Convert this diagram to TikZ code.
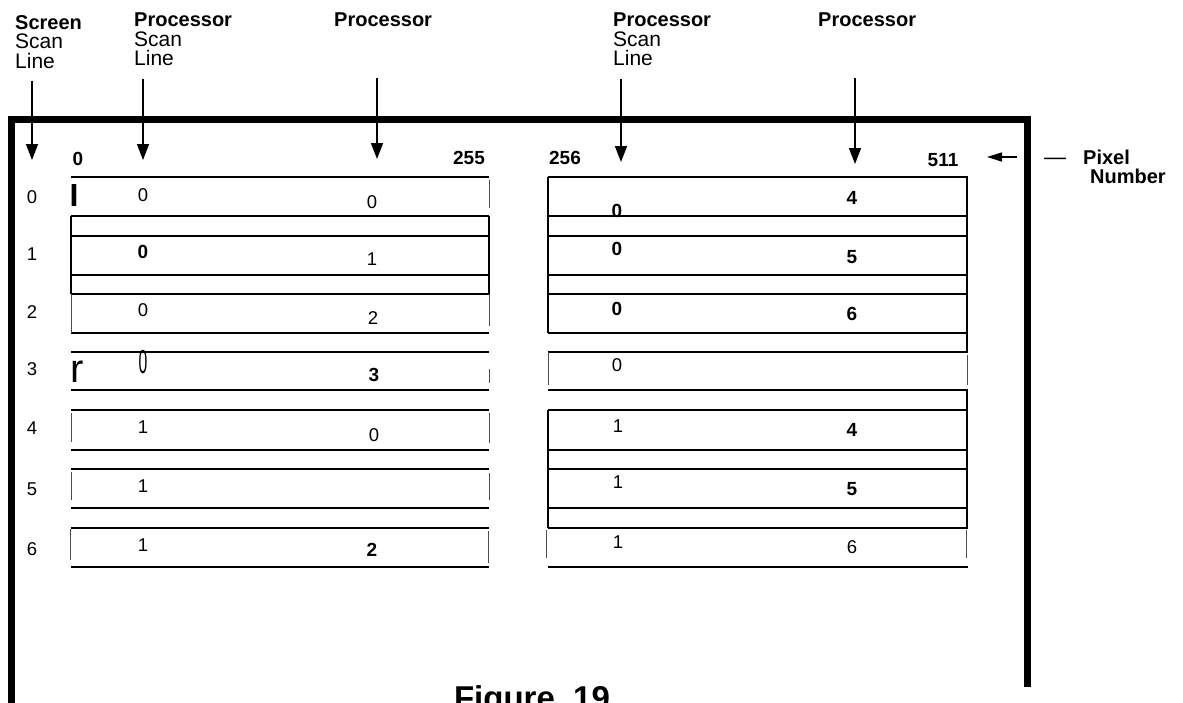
\documentclass[tikz,border=0pt]{standalone}
\usepackage{fontspec}
\setmainfont{Liberation Sans}
\usepackage{graphicx}
\usetikzlibrary{arrows.meta,positioning}

\begin{document}
\begin{tikzpicture}[x=1pt, y=-1pt,
  outerframe/.style={line width=7pt, line join=miter},
  rowline/.style={line width=1.8pt},
  side/.style={line width=1.5pt},
  faint/.style={line width=0.7pt, black!70},
  lbl/.style={inner sep=0pt, anchor=north west, align=left, font=\fontsize{21}{19.5}\selectfont},
  head/.style={inner sep=0pt, anchor=north west, font=\fontsize{20}{19.5}\selectfont\bfseries},
  num/.style={inner sep=0pt, font=\fontsize{18.5}{18.5}\selectfont},
  bnum/.style={inner sep=0pt, font=\fontsize{19}{19}\selectfont\bfseries},
  ptr/.style={line width=1.6pt, -{Triangle[width=12pt,length=16pt]}}]
  \useasboundingbox (0,0) rectangle (1183,702);

  % column headings
  \node[lbl] (scrl) at (15,15) {{\fontsize{20}{19.5}\selectfont\bfseries Screen}\\Scan\\Line};
  \node[lbl] (psl1) at (134,13) {{\fontsize{20}{19.5}\selectfont\bfseries Processor}\\Scan\\Line};
  \node[head] (prc1) at (334,13) {Processor};
  \node[lbl] (psl2) at (613,13) {{\fontsize{20}{19.5}\selectfont\bfseries Processor}\\Scan\\Line};
  \node[head] (prc2) at (818,13) {Processor};

  \coordinate (t0) at (32,160);
  \coordinate (t1) at (143,160);
  \coordinate (t2) at (377,159);
  \coordinate (t3) at (621,162);
  \coordinate (t4) at (855,164);
  \draw[ptr, shorten <=12pt] (scrl.south -| t0) -- (t0);
  \draw[ptr, shorten <=13pt] (psl1.south -| t1) -- (t1);
  \draw[ptr, shorten <=51pt] (prc1.south -| t2) -- (t2);
  \draw[ptr, shorten <=13pt] (psl2.south -| t3) -- (t3);
  \draw[ptr, shorten <=51pt] (prc2.south -| t4) -- (t4);

  % outer frame
  \draw[outerframe] (11,712) -- (11,119.5) -- (1027,119.5) -- (1027,687);

  % pixel numbers
  \node[bnum] (px0) at (78,159) {0};
  \node[bnum] (px255) at (469,158) {255};
  \node[bnum] (px256) at (565,158) {256};
  \node[bnum] (px511) at (943,160) {511};

  \node[inner sep=0pt, font=\fontsize{22}{22}\selectfont] (dash) at (1055,161) {—};
  \node[head] (pix) at (1083,150) {Pixel};
  \node[head] (pnum) at (1090,169) {Number};
  \coordinate (t5) at (987,157);
  \draw[line width=1.4pt, -{Triangle[width=9pt,length=15pt]}, shorten <=27pt] (dash.west |- t5) -- (t5);

  % scan line rows
  \foreach \t/\b in {177/216, 236/275, 294/333, 352/390, 410/450, 469/508, 528/567} {
    \draw[rowline] (71,\t) -- (489,\t) (71,\b) -- (489,\b);
    \draw[rowline] (548,\t) -- (968,\t) (548,\b) -- (968,\b);
  }

  % left panel sides
  \draw[faint] (489,180) -- (489,208);
  \draw[side] (71,216) -- (71,294) (489,216) -- (489,294);
  \draw[faint] (71,294) -- (71,333) (489,294) -- (489,326);
  \draw[faint] (489,369) -- (489,383);
  \draw[faint] (71,413) -- (71,442) (489,413) -- (489,443);
  \draw[faint] (71,472) -- (71,500) (489,473) -- (489,500);
  \draw[faint] (70,529) -- (70,560) (488,531) -- (488,563);

  % right panel sides
  \draw[side] (548,177) -- (548,333) (967,177) -- (967,352);
  \draw[faint] (548,352) -- (548,385) (967,355) -- (967,385);
  \draw[side] (967,390) -- (967,528) (548,410) -- (548,528);
  \draw[faint] (546,530) -- (546,558) (966,530) -- (966,558);

  % screen scan line numbers
  \foreach \i/\y in {0/197, 1/254, 2/312, 3/369, 4/428, 5/489, 6/549}
    \node[num] (row\i) at (32,\y) {\i};

  \node[inner sep=0pt, font=\fontsize{32}{32}\selectfont\bfseries] (bar0) at (74,195) {I};
  \node[inner sep=0pt, font=\fontsize{40}{40}\selectfont] (bar3) at (77,372) {r};

  % left half: processor scan line / processor
  \node[num] (a0s) at (143,195) {0};
  \node[num] (a0p) at (372,202) {0};
  \node[bnum] (a1s) at (143,252) {0};
  \node[num] (a1p) at (372,259) {1};
  \node[num] (a2s) at (143,310) {0};
  \node[num] (a2p) at (373,318) {2};
  \node[num] (a3s) at (143,362) {\scalebox{0.85}[1.8]{0}};
  \node[bnum] (a3p) at (374,375) {3};
  \node[num] (a4s) at (143,427) {1};
  \node[num] (a4p) at (374,435) {0};
  \node[num] (a5s) at (143,486) {1};
  \node[num] (a6s) at (143,545) {1};
  \node[bnum] (a6p) at (372,550) {2};

  % right half
  \node[bnum] (b0s) at (617,211) {0};
  \node[bnum] (b0p) at (852,198) {4};
  \node[bnum] (b1s) at (617,249) {0};
  \node[bnum] (b1p) at (852,257) {5};
  \node[bnum] (b2s) at (617,309) {0};
  \node[bnum] (b2p) at (852,314) {6};
  \node[num] (b3s) at (617,365) {0};
  \node[num] (b4s) at (618,426) {1};
  \node[bnum] (b4p) at (852,430) {4};
  \node[num] (b5s) at (618,482) {1};
  \node[bnum] (b5p) at (852,489) {5};
  \node[num] (b6s) at (618,542) {1};
  \node[num] (b6p) at (852,547) {6};

  \node[inner sep=0pt, anchor=base, font=\fontsize{33}{33}\selectfont\bfseries] (fig) at (532,709) {Figure\ \ 19};
\end{tikzpicture}
\end{document}
